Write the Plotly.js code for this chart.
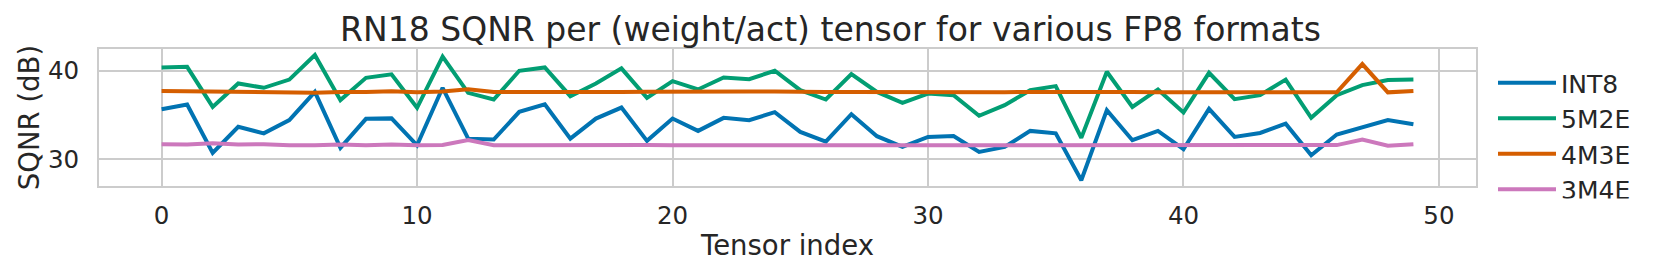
<!DOCTYPE html>
<html>
<head>
<meta charset="utf-8">
<script src="https://cdn.plot.ly/plotly-3.0.1.min.js"></script>
<style>
  html, body { margin: 0; padding: 0; background: #ffffff; }
  #chart { width: 1661px; height: 277px; }
</style>
</head>
<body>
<div id="chart"></div>
<script>
const tensorIndex = Array.from({length: 50}, (_, i) => i);

const seriesNames = ["INT8", "5M2E", "4M3E", "3M4E"];

const int8 = [35.64, 36.17, 30.68, 33.64, 32.90, 34.40, 37.60, 31.25, 34.55, 34.60,
              31.55, 38.07, 32.30, 32.20, 35.34, 36.20, 32.30, 34.58, 35.83, 32.05,
              34.58, 33.18, 34.66, 34.40, 35.30, 33.07, 31.97, 35.08, 32.58, 31.36,
              32.50, 32.60, 30.80, 31.36, 33.18, 32.90, 27.58, 35.53, 32.12, 33.18,
              31.10, 35.68, 32.50, 32.95, 34.00, 30.42, 32.77, 33.56, 34.40, 33.94];

const e5m2 = [40.38, 40.45, 35.90, 38.56, 38.07, 39.00, 41.78, 36.67, 39.20, 39.60,
              35.80, 41.60, 37.50, 36.74, 40.00, 40.38, 37.12, 38.56, 40.27, 36.93,
              38.83, 37.88, 39.24, 39.05, 40.00, 37.80, 36.74, 39.62, 37.60, 36.36,
              37.42, 37.23, 34.89, 36.10, 37.80, 38.26, 32.39, 39.89, 35.90, 37.88,
              35.27, 39.77, 36.78, 37.23, 39.00, 34.66, 37.23, 38.37, 38.94, 39.00];

const e4m3 = [37.72, 37.68, 37.72, 37.62, 37.66, 37.55, 37.52, 37.60, 37.58, 37.68,
              37.55, 37.65, 37.90, 37.60, 37.58, 37.60, 37.60, 37.58, 37.60, 37.62,
              37.60, 37.58, 37.62, 37.65, 37.65, 37.58, 37.60, 37.60, 37.58, 37.60,
              37.58, 37.60, 37.58, 37.57, 37.60, 37.62, 37.55, 37.55, 37.58, 37.55,
              37.55, 37.58, 37.55, 37.56, 37.60, 37.55, 37.55, 40.76, 37.55, 37.70];

const e3m4 = [31.67, 31.63, 31.78, 31.63, 31.67, 31.55, 31.55, 31.63, 31.55, 31.63,
              31.55, 31.58, 32.15, 31.55, 31.55, 31.57, 31.57, 31.55, 31.57, 31.57,
              31.55, 31.57, 31.55, 31.57, 31.58, 31.55, 31.55, 31.55, 31.55, 31.55,
              31.57, 31.57, 31.55, 31.57, 31.57, 31.60, 31.60, 31.57, 31.55, 31.57,
              31.55, 31.57, 31.57, 31.57, 31.60, 31.55, 31.57, 32.20, 31.50, 31.67];

const xTicks = [0, 10, 20, 30, 40, 50];
const yTicks = [30, 40];

const seriesValues = [int8, e5m2, e4m3, e3m4];
const colors = ["#0173b2", "#029e73", "#d55e00", "#cc78bc"];

const textColor = "#262626";
const font = "DejaVu Sans";

const traces = seriesNames.map((name, k) => ({
  type: "scatter",
  mode: "lines",
  name: name,
  x: tensorIndex,
  y: seriesValues[k],
  line: {color: colors[k], width: 4}
}));

const layout = {
  width: 1661,
  height: 277,
  paper_bgcolor: "#ffffff",
  plot_bgcolor: "#ffffff",
  margin: {l: 99, r: 185, t: 49, b: 91, pad: 0},
  font: {family: font, color: textColor, size: 24},
  title: {
    text: "RN18 SQNR per (weight/act) tensor for various FP8 formats",
    font: {family: font, size: 33, color: textColor},
    x: 0.5, xref: "container", xanchor: "center",
    y: 1 - 29 / 277, yref: "container", yanchor: "middle"
  },
  xaxis: {
    range: [-2.45, 51.45],
    tickvals: xTicks,
    ticktext: xTicks.map(String),
    ticks: "",
    showgrid: true, gridcolor: "#cccccc", gridwidth: 2,
    zeroline: false,
    showline: true, mirror: true, linecolor: "#cccccc", linewidth: 2,
    tickfont: {family: font, size: 24.5, color: textColor},
    ticklabelstandoff: 7,
    title: {text: "Tensor index", font: {family: font, size: 27.5, color: textColor}, standoff: 6},
    automargin: false
  },
  yaxis: {
    range: [26.93, 42.47],
    tickvals: yTicks,
    ticktext: yTicks.map(String),
    ticks: "",
    showgrid: true, gridcolor: "#cccccc", gridwidth: 2,
    zeroline: false,
    showline: true, mirror: true, linecolor: "#cccccc", linewidth: 2,
    tickfont: {family: font, size: 24.5, color: textColor},
    ticklabelstandoff: 13,
    title: {text: "SQNR (dB)", font: {family: font, size: 27.5, color: textColor}, standoff: 0},
    automargin: false
  },
  showlegend: true,
  legend: {
    xref: "container", yref: "container",
    x: 1493 / 1661, xanchor: "left",
    y: 1 - 60 / 277, yanchor: "top",
    font: {family: font, size: 25, color: textColor},
    bgcolor: "rgba(0,0,0,0)",
    borderwidth: 0,
    itemwidth: 58,
    tracegroupgap: 0
  }
};

Plotly.newPlot("chart", traces, layout, {staticPlot: true, displayModeBar: false});
</script>
</body>
</html>
